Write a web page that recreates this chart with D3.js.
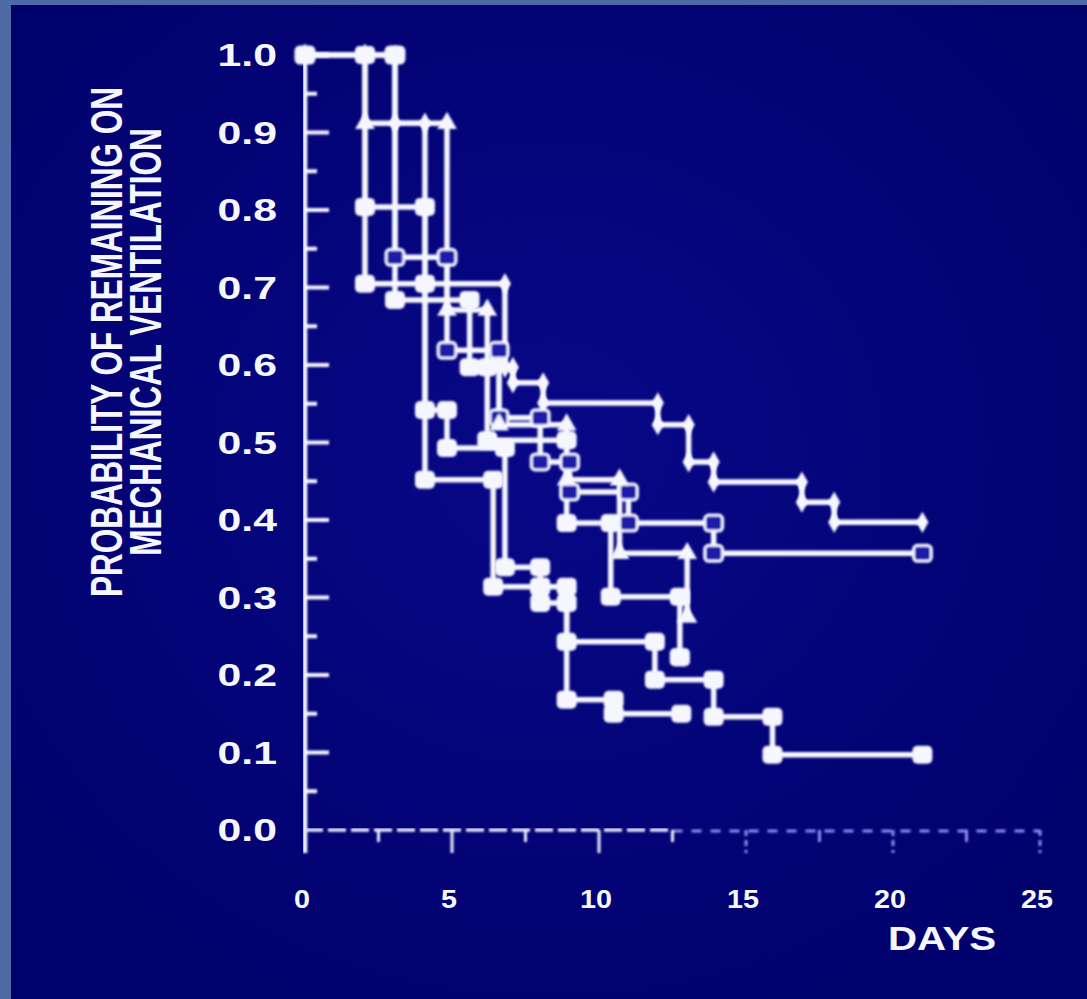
<!DOCTYPE html>
<html>
<head>
<meta charset="utf-8">
<script src="https://cdn.jsdelivr.net/npm/d3@7"></script>
<style>
  html, body { margin: 0; padding: 0; background: #4d6aa6; }
  svg { display: block; }
</style>
</head>
<body>
<svg id="chart" width="1087" height="999"></svg>
<script>
// ---- data (Kaplan-Meier steps: [day, probability after drop]) ----
const yTicks = [0.0, 0.1, 0.2, 0.3, 0.4, 0.5, 0.6, 0.7, 0.8, 0.9, 1.0];
const xTicks = [0, 5, 10, 15, 20, 25];
const yTitleLines = ["PROBABILITY OF REMAINING ON", "MECHANICAL VENTILATION"];
const xTitle = "DAYS";

const diamondSteps = [[3.06,0.912],[4.08,0.705],[6.8,0.597],[7.07,0.577],[8.1,0.551],[12.0,0.523],[13.05,0.475],[13.9,0.449],[16.9,0.423],[18.0,0.397]];
const diamondEnd = 21.0;
const openSquareSteps = [[3.06,0.739],[4.83,0.619],[6.6,0.532],[8.0,0.475],[9.0,0.436],[11.0,0.396],[13.9,0.357]];
const openSquareEnd = 21.0;
const lowSquareSteps = [[2.04,0.705],[4.08,0.452],[6.4,0.314],[8.0,0.293],[8.9,0.243],[11.9,0.194],[13.9,0.146],[15.9,0.097]];
const lowSquareEnd = 21.0;
const midSquareSteps = [[2.04,0.804],[4.08,0.542],[4.83,0.493],[6.8,0.339],[8.0,0.314],[8.9,0.168],[10.5,0.15]];
const midSquareEnd = 12.8;
const triangleSteps = [[2.04,0.912],[4.83,0.671],[6.2,0.597],[6.6,0.523],[8.9,0.452],[10.7,0.357],[13.0,0.275]];
const triangleEnd = 13.0;
const blockSteps = [[3.06,0.684],[5.6,0.597],[6.2,0.503],[8.9,0.396],[10.4,0.301],[12.75,0.223]];
const blockEnd = 12.75;

const series = [
  { steps: diamondSteps, end: diamondEnd, marker: "diamond" },
  { steps: openSquareSteps, end: openSquareEnd, marker: "open" },
  { steps: lowSquareSteps, end: lowSquareEnd, marker: "square" },
  { steps: midSquareSteps, end: midSquareEnd, marker: "square" },
  { steps: triangleSteps, end: triangleEnd, marker: "triangle" },
  { steps: blockSteps, end: blockEnd, marker: "square" }
];

// ---- drawing ----
const svg = d3.select("#chart");
const W = 1087, H = 999;
const defs = svg.append("defs");
const rg = defs.append("radialGradient").attr("id", "bg")
  .attr("cx", "0.5").attr("cy", "0.45").attr("r", "0.7");
rg.append("stop").attr("offset", "0").attr("stop-color", "#080888");
rg.append("stop").attr("offset", "0.6").attr("stop-color", "#030376");
rg.append("stop").attr("offset", "1").attr("stop-color", "#00006a");
const glow = defs.append("filter").attr("id", "soft").attr("x", "-5%").attr("y", "-5%").attr("width", "110%").attr("height", "110%");
glow.append("feGaussianBlur").attr("stdDeviation", 0.8);

svg.append("rect").attr("x", 0).attr("y", 0).attr("width", W).attr("height", H).attr("fill", "#4d6aa6");
svg.append("rect").attr("x", 11).attr("y", 5).attr("width", W - 11).attr("height", H - 5).attr("fill", "url(#bg)");

const x = d3.scaleLinear().domain([0, 25]).range([305, 1040]);
const y = d3.scaleLinear().domain([0, 1]).range([830, 55]);
const WHITE = "#f6f6ff";
const FONT = "'Liberation Sans', Arial, sans-serif";

// Y axis
const yAxisG = svg.append("g").attr("filter", "url(#soft)");
yAxisG.append("line").attr("x1", x(0)).attr("x2", x(0)).attr("y1", y(1) - 2).attr("y2", 853)
  .attr("stroke", WHITE).attr("stroke-width", 4.5);
const yMinor = d3.range(0.05, 1.0, 0.1);
yAxisG.selectAll("line.maj").data(yTicks.filter(d => d > 0)).join("line")
  .attr("x1", x(0)).attr("x2", x(0) + 24).attr("y1", d => y(d)).attr("y2", d => y(d))
  .attr("stroke", WHITE).attr("stroke-width", 4);
yAxisG.selectAll("line.min").data(yMinor).join("line")
  .attr("x1", x(0)).attr("x2", x(0) + 12).attr("y1", d => y(d)).attr("y2", d => y(d))
  .attr("stroke", WHITE).attr("stroke-width", 4);

// X axis (solid-ish on left, faded dashes on right)
const xAxisG = svg.append("g").attr("filter", "url(#soft)");
xAxisG.append("line").attr("x1", x(0)).attr("x2", x(12.5)).attr("y1", y(0)).attr("y2", y(0))
  .attr("stroke", "#e8e8ff").attr("stroke-width", 3.5).attr("stroke-dasharray", "18,5");
xAxisG.append("line").attr("x1", x(12.5)).attr("x2", x(25)).attr("y1", y(0) + 1).attr("y2", y(0) + 1)
  .attr("stroke", "#8c8cf0").attr("stroke-width", 3).attr("stroke-dasharray", "10,9");
const xMinor = [2.5, 7.5, 12.5, 17.5, 22.5];
const tickColor = d => d <= 12.5 ? "#ececff" : "#8c8cf0";
xAxisG.selectAll("line.xmaj").data(xTicks.filter(d => d > 0)).join("line")
  .attr("x1", d => x(d)).attr("x2", d => x(d)).attr("y1", y(0)).attr("y2", 853)
  .attr("stroke", tickColor).attr("stroke-width", 3)
  .attr("stroke-dasharray", d => d <= 12.5 ? null : "6,4");
xAxisG.selectAll("line.xmin").data(xMinor).join("line")
  .attr("x1", d => x(d)).attr("x2", d => x(d)).attr("y1", y(0)).attr("y2", 842)
  .attr("stroke", tickColor).attr("stroke-width", 3);

// Tick labels
svg.selectAll("text.ylab").data(yTicks).join("text")
  .attr("transform", d => `translate(277,${y(d) + 11}) scale(1.38,1)`)
  .attr("text-anchor", "end").attr("font-family", FONT).attr("font-weight", "bold")
  .attr("font-size", 31).attr("fill", WHITE).text(d => d.toFixed(1));
svg.selectAll("text.xlab").data(xTicks).join("text")
  .attr("transform", d => `translate(${x(d) - 3},${908}) scale(1.15,1)`)
  .attr("text-anchor", "middle").attr("font-family", FONT).attr("font-weight", "bold")
  .attr("font-size", 25).attr("fill", WHITE).text(d => d);
svg.append("text").attr("transform", "translate(942,950) scale(1.22,1)")
  .attr("text-anchor", "middle").attr("font-family", FONT).attr("font-weight", "bold")
  .attr("font-size", 33).attr("fill", WHITE).text(xTitle);

// Y title (two lines, rotated)
yTitleLines.forEach((t, i) => {
  svg.append("text")
    .attr("transform", `translate(${122 + i * 39},342) scale(1.38,1) rotate(-90)`)
    .attr("text-anchor", "middle").attr("font-family", FONT).attr("font-weight", "bold")
    .attr("font-size", 31.5).attr("fill", WHITE).text(t);
});

// Curves
const line = d3.line().x(d => x(d[0])).y(d => y(d[1])).curve(d3.curveStepAfter);
const curvesG = svg.append("g").attr("filter", "url(#soft)");
const markersG = svg.append("g").attr("filter", "url(#soft)");

series.forEach(s => {
  const pts = [[0, 1]].concat(s.steps);
  const last = pts[pts.length - 1][1];
  pts.push([s.end, last]);
  curvesG.append("path").attr("d", line(pts)).attr("fill", "none")
    .attr("stroke", WHITE).attr("stroke-width", 5.5).attr("stroke-linejoin", "round");

  // marker positions: start, both corners of each drop, end
  const mk = [[0, 1]];
  let prev = 1;
  s.steps.forEach(([t, v]) => { mk.push([t, prev]); mk.push([t, v]); prev = v; });
  mk.push([s.end, last]);

  const g = markersG.append("g");
  if (s.marker === "square") {
    g.selectAll("rect").data(mk).join("rect")
      .attr("x", d => x(d[0]) - 10).attr("y", d => y(d[1]) - 9)
      .attr("width", 20).attr("height", 18).attr("rx", 5)
      .attr("fill", WHITE);
  } else if (s.marker === "open") {
    g.selectAll("rect").data(mk).join("rect")
      .attr("x", d => x(d[0]) - 9).attr("y", d => y(d[1]) - 8)
      .attr("width", 18).attr("height", 16).attr("rx", 4)
      .attr("fill", "#1a1aa8").attr("stroke", WHITE).attr("stroke-width", 3);
  } else if (s.marker === "diamond") {
    g.selectAll("path").data(mk).join("path")
      .attr("transform", d => `translate(${x(d[0])},${y(d[1])})`)
      .attr("d", d3.symbol().type(d3.symbolDiamond).size(130))
      .attr("fill", WHITE);
  } else if (s.marker === "triangle") {
    g.selectAll("path").data(mk).join("path")
      .attr("transform", d => `translate(${x(d[0])},${y(d[1])})`)
      .attr("d", d3.symbol().type(d3.symbolTriangle).size(170))
      .attr("fill", WHITE);
  }
});
</script>
</body>
</html>
